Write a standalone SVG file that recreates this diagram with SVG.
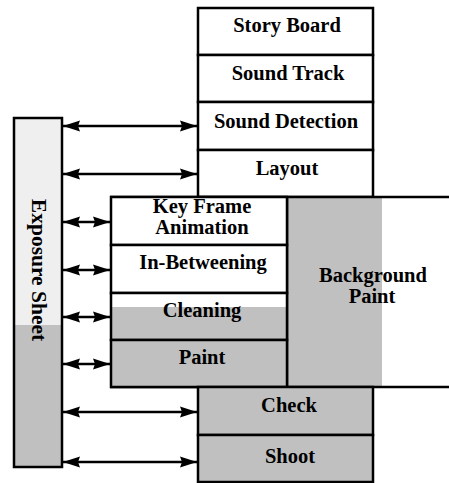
<svg xmlns="http://www.w3.org/2000/svg" width="449" height="483" viewBox="0 0 449 483">
<style>
.box{stroke:#000;stroke-width:2.5;}
.w{fill:#fff;}
.g{fill:#c0c0c0;}
.lg{fill:#efefef;}
.t{font-family:"Liberation Serif","Times New Roman",serif;font-weight:bold;font-size:20.5px;fill:#000;text-anchor:middle;}
.c line{stroke:#000;stroke-width:2.5;marker-start:url(#ah);marker-end:url(#ah);}
</style>
<defs>
<marker id="ah" viewBox="0 0 17 12" refX="17" refY="6" markerWidth="17" markerHeight="12" markerUnits="userSpaceOnUse" orient="auto-start-reverse">
<path d="M0,0.5 L17,6 L0,11.5 L2,6 Z" fill="#000"/>
</marker>
</defs>

<g id="exposure-sheet">
<rect x="14" y="118" width="48" height="207" class="lg"/>
<rect x="14" y="325" width="48" height="142" class="g"/>
<rect x="14" y="118" width="48" height="349" fill="none" class="box"/>
<text class="t" style="font-size:21.5px" transform="translate(32,270) rotate(90)">Exposure Sheet</text>
</g>

<g id="story-board">
<rect x="198" y="8" width="175" height="47" class="box w"/>
<text class="t" x="287" y="32">Story Board</text>
</g>
<g id="sound-track">
<rect x="198" y="55" width="175" height="47" class="box w"/>
<text class="t" x="288" y="80">Sound Track</text>
</g>
<g id="sound-detection">
<rect x="198" y="102" width="175" height="48" class="box w"/>
<text class="t" x="286" y="128">Sound Detection</text>
</g>
<g id="layout">
<rect x="198" y="150" width="175" height="47" class="box w"/>
<text class="t" x="287" y="175">Layout</text>
</g>

<g id="background-paint">
<rect x="287" y="197" width="95" height="190" class="g"/>
<line x1="110" y1="197" x2="449" y2="197" class="box"/>
<line x1="110" y1="387" x2="449" y2="387" class="box"/>
<line x1="287" y1="197" x2="287" y2="387" class="box"/>
<text class="t" x="373" y="282">Background</text>
<text class="t" x="372" y="303">Paint</text>
</g>

<g id="key-frame-animation">
<rect x="111" y="197" width="176" height="48" class="box w"/>
<text class="t" x="202" y="213">Key Frame</text>
<text class="t" x="202" y="234">Animation</text>
</g>
<g id="in-betweening">
<rect x="111" y="245" width="176" height="48" class="box w"/>
<text class="t" x="203" y="269">In-Betweening</text>
</g>
<g id="cleaning">
<rect x="111" y="293" width="176" height="47" class="w"/>
<rect x="111" y="307" width="176" height="33" class="g"/>
<rect x="111" y="293" width="176" height="47" fill="none" class="box"/>
<text class="t" x="202" y="317">Cleaning</text>
</g>
<g id="paint">
<rect x="111" y="340" width="176" height="47" class="box g"/>
<text class="t" x="202" y="364">Paint</text>
</g>

<g id="check">
<rect x="198" y="387" width="175" height="48" class="box g"/>
<text class="t" x="289" y="412">Check</text>
</g>
<g id="shoot">
<rect x="198" y="435" width="175" height="47" class="box g"/>
<text class="t" x="290" y="463">Shoot</text>
</g>

<g id="connectors" class="c">
<line x1="63" y1="126" x2="197" y2="126"/>
<line x1="63" y1="174" x2="197" y2="174"/>
<line x1="63" y1="222" x2="110" y2="222"/>
<line x1="63" y1="270" x2="110" y2="270"/>
<line x1="63" y1="317" x2="110" y2="317"/>
<line x1="63" y1="364" x2="110" y2="364"/>
<line x1="63" y1="412" x2="197" y2="412"/>
<line x1="63" y1="462" x2="197" y2="462"/>
</g>
</svg>
